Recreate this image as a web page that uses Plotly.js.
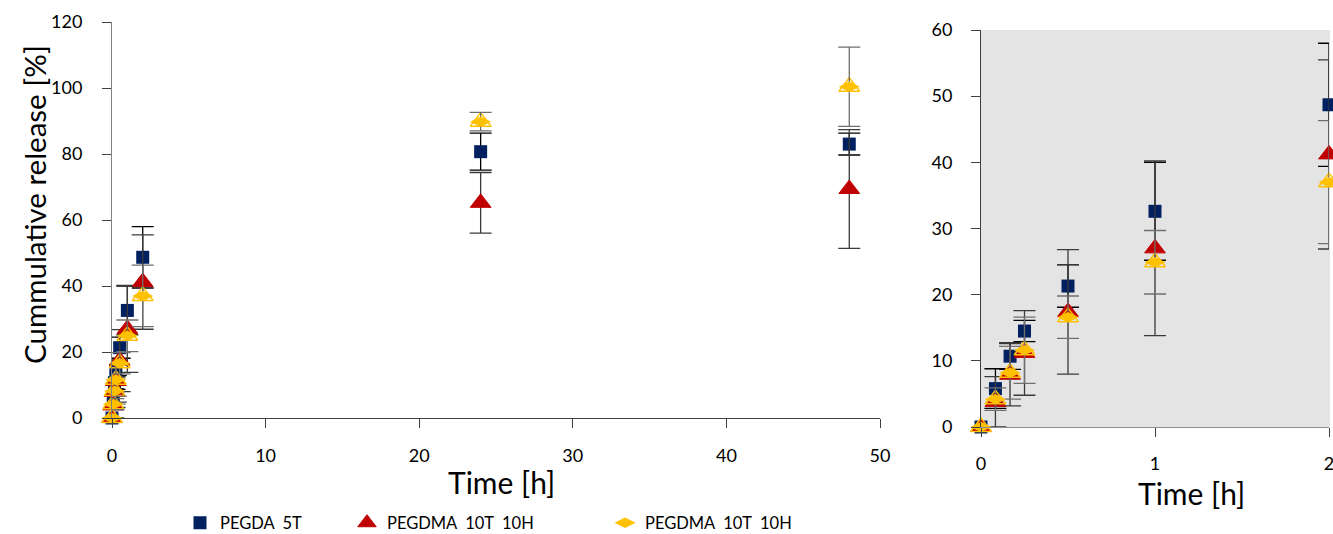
<!DOCTYPE html>
<html>
<head>
<meta charset="utf-8">
<script src="https://cdn.plot.ly/plotly-3.0.1.min.js"></script>
<style>html,body{margin:0;padding:0;background:#fff;}#chart{width:1333px;height:534px;}</style>
</head>
<body>
<div id="chart"></div>
<script>
// ---- data ----
const timeH = [0, 0.083, 0.167, 0.25, 0.5, 1, 2, 24, 48];

const pegdaName = 'PEGDA\u00a0 5T';
const pegda     = [0, 5.8, 10.7, 14.5, 21.3, 32.6, 48.7, 80.7, 83.0];
const pegdaErr  = [0, 3.0, 2.0, 1.6, 3.2, 7.4, 9.3, 5.6, 3.3];

const redName   = 'PEGDMA\u00a0 10T\u00a0 10H';
const red       = [0, 3.8, 7.9, 11.2, 17.4, 27.0, 41.2, 65.2, 69.4];
const redErr    = [0, 3.8, 4.7, 6.4, 9.4, 13.2, 14.3, 9.2, 18.0];

const yelName   = 'PEGDMA\u00a0 10T\u00a0 10H';
const yel       = [0, 4.2, 8.2, 11.6, 16.6, 24.9, 37.0, 89.8, 100.4];
const yelErr    = [0, 1.7, 4.0, 5.0, 3.2, 4.8, 9.3, 2.8, 12.0];

const leftXTicks  = [0, 10, 20, 30, 40, 50];
const leftYTicks  = [0, 20, 40, 60, 80, 100, 120];
const rightXTicks = [0, 1, 2];
const rightYTicks = [0, 10, 20, 30, 40, 50, 60];
const zoomCount = 7; // points up to 2 h shown in the inset

// ---- styles ----
const NAVY = '#002060', RED = '#C00000', YEL = '#FFC000';
const FONT = 'Lato, "Open Sans", sans-serif';
const W = 1333, H = 534;
const px = v => v / W, py = v => (H - v) / H;

function makeTraces(xa, ya, n, legendOn) {
  const sl = a => a.slice(0, n);
  const eb = (arr, col) => ({type: 'data', array: sl(arr), visible: true, color: col, thickness: 1.3, width: 11});
  return [
    {x: sl(timeH), y: sl(pegda), name: pegdaName, type: 'scatter', mode: 'markers', xaxis: xa, yaxis: ya,
     marker: {symbol: 'square', size: 13, color: NAVY}, error_y: eb(pegdaErr, '#000000'),
     cliponaxis: false, showlegend: legendOn, legend: 'legend'},
    {x: sl(timeH), y: sl(red), name: redName, type: 'scatter', mode: 'markers', xaxis: xa, yaxis: ya,
     marker: {symbol: 'triangle-up', size: 18, color: RED, line: {width: 1, color: RED}}, error_y: eb(redErr, '#3a3a3a'),
     cliponaxis: false, showlegend: legendOn, legend: 'legend2'},
    {x: sl(timeH), y: sl(yel), name: yelName, type: 'scatter', mode: 'markers', xaxis: xa, yaxis: ya,
     marker: {symbol: 'triangle-up-open', size: 18, color: YEL, line: {width: 1.5}},
     cliponaxis: false, showlegend: false, hoverinfo: 'skip'},
    {x: sl(timeH), y: sl(yel), name: yelName, type: 'scatter', mode: 'markers', xaxis: xa, yaxis: ya,
     marker: {symbol: 'diamond-wide', size: 15, color: YEL}, error_y: eb(yelErr, '#6f6f6f'),
     cliponaxis: false, showlegend: legendOn, legend: 'legend3'}
  ];
}

const data = [].concat(
  makeTraces('x', 'y', timeH.length, true),
  makeTraces('x2', 'y2', zoomCount, false)
);

const tickFont = {family: FONT, size: 18, color: '#000'};
const baseAxis = {
  showgrid: false, zeroline: false, showline: true, ticks: 'outside', ticklen: 9,
  tickwidth: 1, tickfont: tickFont, fixedrange: true, ticklabeloverflow: 'allow',
  ticklabelposition: 'outside', automargin: false
};

const legendBase = {orientation: 'h', yanchor: 'middle', y: py(523), xanchor: 'left',
  bgcolor: 'rgba(0,0,0,0)', font: {family: FONT, size: 16.5, color: '#000'},
  itemwidth: 30, borderwidth: 0};

const titleFont = {family: FONT, size: 30, color: '#000'};

const layout = {
  width: W, height: H,
  margin: {l: 0, r: 0, t: 0, b: 0, autoexpand: false},
  paper_bgcolor: '#fff', plot_bgcolor: 'rgba(0,0,0,0)',
  font: {family: FONT, color: '#000'},
  xaxis: Object.assign({}, baseAxis, {domain: [px(112), px(880)], range: [0, 50],
    tickvals: leftXTicks, linecolor: '#404040', tickcolor: '#404040', ticklabelstandoff: 12, anchor: 'y'}),
  yaxis: Object.assign({}, baseAxis, {domain: [py(418), py(22)], range: [0, 120],
    tickvals: leftYTicks, linecolor: '#808080', tickcolor: '#404040', ticklabelstandoff: 16, anchor: 'x'}),
  xaxis2: Object.assign({}, baseAxis, {domain: [px(981), px(1329)], range: [0, 2],
    tickvals: rightXTicks, linecolor: '#8c8c8c', tickcolor: '#404040', ticklabelstandoff: 11, anchor: 'y2'}),
  yaxis2: Object.assign({}, baseAxis, {domain: [py(427), py(30)], range: [0, 60],
    tickvals: rightYTicks, linecolor: '#404040', tickcolor: '#404040', ticklabelstandoff: 15, anchor: 'x2'}),
  shapes: [{type: 'rect', xref: 'x2 domain', yref: 'y2 domain', x0: 0, x1: 1.003, y0: 0, y1: 1,
    fillcolor: '#e4e4e4', line: {width: 0}, layer: 'below'}],
  annotations: [
    {text: 'Cummulative release [%]', xref: 'paper', yref: 'paper', x: px(34), y: py(205),
     textangle: -90, showarrow: false, xanchor: 'center', yanchor: 'middle', font: {family: FONT, size: 29.5, color: '#000'}},
    {text: 'Time [h]', xref: 'paper', yref: 'paper', x: px(501), y: py(482),
     showarrow: false, xanchor: 'center', yanchor: 'middle', font: titleFont},
    {text: 'Time [h]', xref: 'paper', yref: 'paper', x: px(1191), y: py(493),
     showarrow: false, xanchor: 'center', yanchor: 'middle', font: titleFont}
  ],
  legend: Object.assign({}, legendBase, {x: px(180)}),
  legend2: Object.assign({}, legendBase, {x: px(347)}),
  legend3: Object.assign({}, legendBase, {x: px(605)}),
  showlegend: true
};

Plotly.newPlot('chart', data, layout, {staticPlot: true, displayModeBar: false});
</script>
</body>
</html>
